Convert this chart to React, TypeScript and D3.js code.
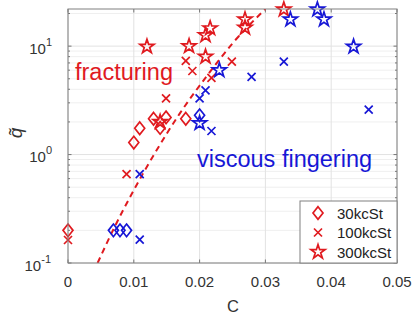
import * as d3 from 'd3';

// C (x) and q~ (y), one small list per series
const diamondRed = [[0, 0.2], [0.01, 1.29], [0.0109, 1.75], [0.013, 2.14], [0.014, 1.76], [0.0149, 2.2], [0.0179, 2.14]];
const diamondBlue = [[0.0069, 0.2], [0.0079, 0.2], [0.0089, 0.2], [0.02, 2.3]];
const crossRed = [[0, 0.163], [0.0089, 0.66], [0.0149, 3.3], [0.0179, 7.3], [0.0189, 5.9], [0.0218, 5.1], [0.0249, 7.2]];
const crossBlue = [[0.0109, 0.66], [0.0109, 0.164], [0.02, 3.3], [0.0209, 3.9], [0.0218, 1.65], [0.0279, 5.2], [0.0328, 7.2], [0.0457, 2.6]];
const starRed = [[0.012, 9.9], [0.014, 2.0], [0.0184, 10], [0.0209, 12.6], [0.0216, 14.6], [0.0209, 8.0], [0.0269, 17.6], [0.0269, 14.8], [0.0328, 21.8]];
const starBlue = [[0.02, 1.95], [0.023, 6.0], [0.0338, 17.6], [0.0379, 21.8], [0.0389, 17.6], [0.0434, 9.9]];

// dashed boundary line
const fitC = [0.0045, 0.007, 0.01, 0.0132, 0.017, 0.021, 0.025, 0.03];
const fitQ = [0.1, 0.21, 0.47, 1.03, 2.4, 5.2, 10.6, 22];

const xTicks = [0, 0.01, 0.02, 0.03, 0.04, 0.05];
const xTickLabels = ['0', '0.01', '0.02', '0.03', '0.04', '0.05'];
const yTicks = [0.1, 1, 10];
const yTickExp = ['-1', '0', '1'];
const legendLabels = ['30kcSt', '100kcSt', '300kcSt'];

const RED = '#e01a1f';
const BLUE = '#1717d6';
const W = 417;
const H = 314;
const L = 68, R = 397, T = 9, B = 263;

const diamondPath = 'M0,-6.3L5,0L0,6.3L-5,0Z';
const crossPath = 'M-4,-4L4,4M-4,4L4,-4';
const starPath = d3.symbol(d3.symbolStar, 62)() as string;

const Marker = ({ kind, x, y, color }: { kind: string; x: number; y: number; color: string }) => {
  const d = kind === 'diamond' ? diamondPath : kind === 'cross' ? crossPath : starPath;
  return (
    <path
      d={d}
      transform={`translate(${x},${y})`}
      fill="none"
      stroke={color}
      strokeWidth={kind === 'star' ? 1.7 : 1.7}
      strokeLinejoin="miter"
    />
  );
};

export default function App() {
  const x = d3.scaleLinear().domain([0, 0.05]).range([L, R]);
  const y = d3.scaleLog().domain([0.1, 22]).range([B, T]);

  const minor: number[] = [];
  [0.1, 1, 10].forEach((dec) => {
    for (let k = 2; k <= 9; k++) {
      const v = dec * k;
      if (v <= 22) minor.push(v);
    }
  });

  const line = d3
    .line<number>()
    .x((_, i) => x(fitC[i]))
    .y((q) => y(q))
    .curve(d3.curveMonotoneX);

  const series = [
    { data: diamondRed, kind: 'diamond', color: RED },
    { data: diamondBlue, kind: 'diamond', color: BLUE },
    { data: crossRed, kind: 'cross', color: RED },
    { data: crossBlue, kind: 'cross', color: BLUE },
    { data: starRed, kind: 'star', color: RED },
    { data: starBlue, kind: 'star', color: BLUE },
  ];

  const font = 'Liberation Sans, Arial, sans-serif';

  return (
    <div style={{ position: 'absolute', left: 0, top: 0 }}>
      <svg width={W} height={H} style={{ display: 'block', background: '#fff' }} fontFamily={font}>
        <defs>
          <clipPath id="plot">
            <rect x={L} y={T} width={R - L} height={B - T} />
          </clipPath>
        </defs>
        <rect x={L} y={T} width={R - L} height={B - T} fill="#fff" />

        {/* grid */}
        {minor.map((v) => (
          <line key={'mg' + v} x1={L} x2={R} y1={y(v)} y2={y(v)} stroke="#efefef" strokeWidth={1} />
        ))}
        {yTicks.map((v) => (
          <line key={'yg' + v} x1={L} x2={R} y1={y(v)} y2={y(v)} stroke="#e2e2e2" strokeWidth={1} />
        ))}
        {xTicks.map((v) => (
          <line key={'xg' + v} x1={x(v)} x2={x(v)} y1={T} y2={B} stroke="#e2e2e2" strokeWidth={1} />
        ))}

        {/* ticks */}
        {xTicks.map((v) => (
          <g key={'xt' + v}>
            <line x1={x(v)} x2={x(v)} y1={B} y2={B - 3.5} stroke="#777" />
            <line x1={x(v)} x2={x(v)} y1={T} y2={T + 3.5} stroke="#777" />
          </g>
        ))}
        {[...yTicks, ...minor].map((v) => {
          const len = yTicks.includes(v) ? 3.5 : 2;
          return (
            <g key={'yt' + v}>
              <line x1={L} x2={L + len} y1={y(v)} y2={y(v)} stroke="#777" />
              <line x1={R} x2={R - len} y1={y(v)} y2={y(v)} stroke="#777" />
            </g>
          );
        })}

        {/* dashed boundary */}
        <path
          d={line(fitQ) as string}
          fill="none"
          stroke={RED}
          strokeWidth={2}
          strokeDasharray="6,4.5"
          clipPath="url(#plot)"
        />

        {/* markers */}
        {series.map((s, si) =>
          s.data.map((p, i) => (
            <Marker key={si + '-' + i} kind={s.kind} x={x(p[0])} y={y(p[1])} color={s.color} />
          ))
        )}

        {/* axes box */}
        <rect x={L} y={T} width={R - L} height={B - T} fill="none" stroke="#808080" strokeWidth={1} />

        {/* annotations */}
        <text x={75} y={79.5} fill={RED} fontSize={23.5}>
          fracturing
        </text>
        <text x={197} y={167} fill={BLUE} fontSize={23.5}>
          viscous fingering
        </text>

        {/* tick labels */}
        {xTicks.map((v, i) => (
          <text key={'xl' + v} x={x(v)} y={287} fontSize={15} fill="#333" textAnchor="middle">
            {xTickLabels[i]}
          </text>
        ))}
        {yTicks.map((v, i) => (
          <text key={'yl' + v} x={i === 0 ? 51 : 52} y={y(v) + 7.5} fontSize={15} fill="#333" textAnchor="end">
            10
            <tspan fontSize={11} dy={-8}>
              {yTickExp[i]}
            </tspan>
          </text>
        ))}

        {/* axis labels */}
        <text x={233} y={311.5} fontSize={16.5} fill="#333" textAnchor="middle">
          C
        </text>
        <text
          transform={`translate(22,133) rotate(-90)`}
          fontSize={19}
          fontStyle="italic"
          fill="#333"
          textAnchor="middle"
        >
          q̃
        </text>

        {/* legend */}
        <rect x={300} y={201} width={97} height={62} fill="#fff" stroke="#808080" strokeWidth={1} />
        {['diamond', 'cross', 'star'].map((k, i) => (
          <g key={'lg' + k}>
            <Marker kind={k} x={318} y={213 + i * 19.5} color={RED} />
            <text x={337} y={213 + i * 19.5 + 5.5} fontSize={15} fill="#222">
              {legendLabels[i]}
            </text>
          </g>
        ))}
      </svg>
    </div>
  );
}
